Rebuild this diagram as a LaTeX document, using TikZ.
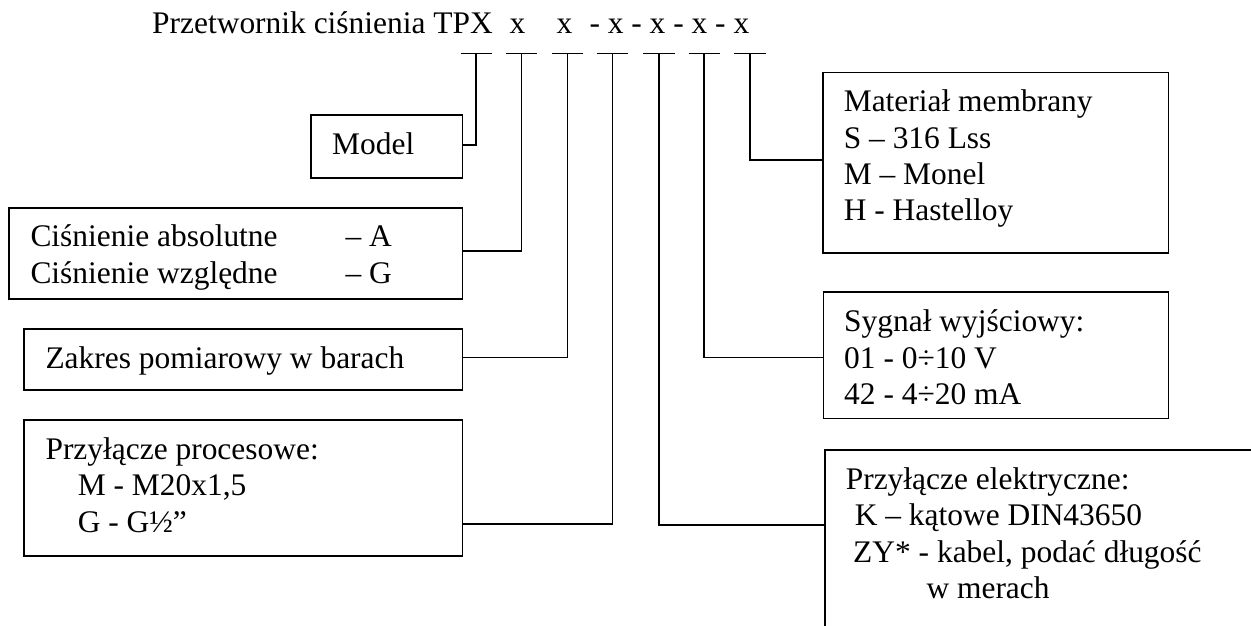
\documentclass[tikz,border=0pt]{standalone}
\usepackage{fontspec}
\setmainfont{Liberation Serif}
\newlength\pxu
\setlength\pxu{0.3817pt}
\tikzset{
  box/.style={draw, line width=0.6pt, inner sep=0pt, anchor=north west},
  txt/.style={anchor=base west, inner sep=0pt, font=\fontsize{12}{13.9}\selectfont},
  conn/.style={line width=0.6pt},
}
\newcommand{\lns}[1]{\begin{tabular}[t]{@{}l@{}}#1\end{tabular}}
\begin{document}
\begin{tikzpicture}[x=0.3817pt,y=-0.3817pt]
\useasboundingbox (0,0) rectangle (1251,626);
\fill[white] (0,0) rectangle (1251,626);

% title
\node[txt] (title) at (151.7,33.3) {\makebox[357.3\pxu][l]{Przetwornik ciśnienia TPX}\makebox[47\pxu][l]{x}\makebox[33\pxu][l]{x}\makebox[18.4\pxu][l]{-}\makebox[23.5\pxu][l]{x}\makebox[18.3\pxu][l]{-}\makebox[23.6\pxu][l]{x}\makebox[18.3\pxu][l]{-}\makebox[23.6\pxu][l]{x}\makebox[18.3\pxu][l]{-}x};

% tick points
\coordinate (t1) at (476.2,53.3);
\coordinate (t2) at (521.7,53.3);
\coordinate (t3) at (567.4,53.3);
\coordinate (t4) at (612.4,53.3);
\coordinate (t5) at (659.1,53.3);
\coordinate (t6) at (704.2,53.3);
\coordinate (t7) at (750.0,53.3);
\foreach \t in {t1,t2,t3,t4,t5,t6,t7}
  \draw[conn] ([xshift=-15.7\pxu]\t) -- ([xshift=15.7\pxu]\t);

% boxes
\node[box, minimum width=151.7\pxu, minimum height=63\pxu] (model) at (310,114) {};
\node[box, minimum width=453.4\pxu, minimum height=91\pxu] (cisn) at (8.3,207.3) {};
\node[box, minimum width=438.4\pxu, minimum height=60.7\pxu] (zakres) at (23.3,328.3) {};
\node[box, minimum width=438.4\pxu, minimum height=136\pxu] (proces) at (23.3,419) {};
\node[box, minimum width=345.4\pxu, minimum height=180.6\pxu] (mat) at (822.3,71.7) {};
\node[box, minimum width=345\pxu, minimum height=126.7\pxu] (syg) at (822.7,291) {};
\begin{scope}
\clip (0,0) rectangle (1251,626);
\node[box, minimum width=500\pxu, minimum height=300\pxu] (elek) at (824.3,449.3) {};
\end{scope}

% texts
\node[txt] (modeltxt) at (331.7,155) {Model};
\node[txt] (cisntxt) at (30,246.7) {\lns{\makebox[315\pxu][l]{Ciśnienie absolutne}– A\\ \makebox[315\pxu][l]{Ciśnienie względne}– G}};
\node[txt] (zakrestxt) at (45,368.3) {Zakres pomiarowy w barach};
\node[txt] (procestxt) at (45,459.3) {\lns{Przyłącze procesowe:\\ \hspace*{32.3\pxu}M - M20x1,5\\ \hspace*{32.3\pxu}G - G½”}};
\node[txt] (mattxt) at (843.3,111.7) {\lns{Materiał membrany\\ S – 316 Lss\\ M – Monel\\ H - Hastelloy}};
\node[txt] (sygtxt) at (843.7,331.7) {\lns{Sygnał wyjściowy:\\ 01 - 0÷10 V\\ 42 - 4÷20 mA}};
\node[txt] (elektxt) at (845.3,489.3) {\lns{Przyłącze elektryczne:\\ \hspace*{9\pxu}K – kątowe DIN43650\\ \hspace*{7.4\pxu}ZY* - kabel, podać długość\\ \hspace*{80.7\pxu}w merach}};

% connectors
\coordinate (k1) at (476.2,145);
\coordinate (k2) at (521.7,251);
\coordinate (k3) at (567.4,357.5);
\coordinate (k4) at (612.4,524);
\coordinate (k5) at (659.1,525);
\coordinate (k6) at (704.2,357.7);
\coordinate (k7) at (750.0,160);
\draw[conn] (k1 -| model.east) -- (k1) -- (t1);
\draw[conn] (k2 -| cisn.east) -- (k2) -- (t2);
\draw[conn] (k3 -| zakres.east) -- (k3) -- (t3);
\draw[conn] (k4 -| proces.east) -- (k4) -- (t4);
\draw[conn] (k5 -| elek.west) -- (k5) -- (t5);
\draw[conn] (k6 -| syg.west) -- (k6) -- (t6);
\draw[conn] (k7 -| mat.west) -- (k7) -- (t7);
\end{tikzpicture}
\end{document}
